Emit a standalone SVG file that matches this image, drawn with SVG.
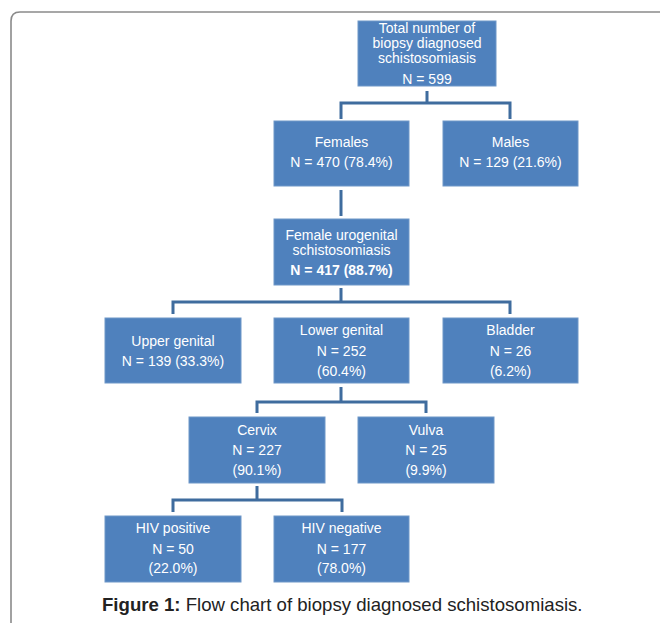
<svg xmlns="http://www.w3.org/2000/svg" width="660" height="623" viewBox="0 0 660 623">
<style>
.box{fill:#4F81BD;stroke:#6F97C8;stroke-width:1}
.t{font-family:"Liberation Sans",Arial,sans-serif;font-size:14px;fill:#FFFFFF;text-anchor:middle}
.b{font-weight:bold}
.c{fill:none;stroke:#3F6C9E;stroke-width:3;stroke-linejoin:miter}
.cap{font-family:"Liberation Sans",Arial,sans-serif;font-size:18.6px;fill:#222222}
</style>
<rect width="660" height="623" fill="#FFFFFF"/>
<path d="M11,630 L11,21 Q11,12 20,12 L670,12" fill="none" stroke="#8A8A8A" stroke-width="1.6"/>
<g id="connectors">
<path class="c" d="M427,91 V103 M341,119 V103 H510 V119"/>
<path class="c" d="M341,190 V216"/>
<path class="c" d="M341,288 V302 M173,314 V302 H510 V314"/>
<path class="c" d="M341,387 V402 M257,413 V402 H426 V413"/>
<path class="c" d="M257,486 V500 M173,512 V500 H342 V512"/>
</g>
<g id="total">
<rect class="box" x="358" y="21" width="138" height="65"/>
<text class="t" x="427" y="32.5">Total number of</text>
<text class="t" x="427" y="47.5">biopsy diagnosed</text>
<text class="t" x="427" y="62.5">schistosomiasis</text>
<text class="t" x="427" y="83.5">N = 599</text>
</g>
<g id="females">
<rect class="box" x="274" y="121" width="135" height="65"/>
<text class="t" x="341.5" y="147">Females</text>
<text class="t" x="341.5" y="167">N = 470 (78.4%)</text>
</g>
<g id="males">
<rect class="box" x="443" y="121" width="135" height="65"/>
<text class="t" x="510.5" y="147">Males</text>
<text class="t" x="510.5" y="167">N = 129 (21.6%)</text>
</g>
<g id="fus">
<rect class="box" x="274" y="219" width="135" height="66"/>
<text class="t" x="341.5" y="239.5">Female urogenital</text>
<text class="t" x="341.5" y="254.5">schistosomiasis</text>
<text class="t b" x="341.5" y="274.5">N = 417 (88.7%)</text>
</g>
<g id="upper">
<rect class="box" x="105" y="318" width="136" height="65"/>
<text class="t" x="173" y="345.5">Upper genital</text>
<text class="t" x="173" y="365.5">N = 139 (33.3%)</text>
</g>
<g id="lower">
<rect class="box" x="274" y="318" width="135" height="65"/>
<text class="t" x="341.5" y="335">Lower genital</text>
<text class="t" x="341.5" y="356">N = 252</text>
<text class="t" x="341.5" y="375.5">(60.4%)</text>
</g>
<g id="bladder">
<rect class="box" x="443" y="318" width="135" height="65"/>
<text class="t" x="510.5" y="335">Bladder</text>
<text class="t" x="510.5" y="356">N = 26</text>
<text class="t" x="510.5" y="375.5">(6.2%)</text>
</g>
<g id="cervix">
<rect class="box" x="189" y="417" width="136" height="66"/>
<text class="t" x="257" y="435">Cervix</text>
<text class="t" x="257" y="455">N = 227</text>
<text class="t" x="257" y="474.5">(90.1%)</text>
</g>
<g id="vulva">
<rect class="box" x="358" y="417" width="136" height="66"/>
<text class="t" x="426" y="435">Vulva</text>
<text class="t" x="426" y="455">N = 25</text>
<text class="t" x="426" y="474.5">(9.9%)</text>
</g>
<g id="hivpos">
<rect class="box" x="105" y="516" width="136" height="66"/>
<text class="t" x="173" y="533">HIV positive</text>
<text class="t" x="173" y="554">N = 50</text>
<text class="t" x="173" y="573">(22.0%)</text>
</g>
<g id="hivneg">
<rect class="box" x="274" y="516" width="135" height="66"/>
<text class="t" x="341.5" y="533">HIV negative</text>
<text class="t" x="341.5" y="554">N = 177</text>
<text class="t" x="341.5" y="573">(78.0%)</text>
</g>
<g id="caption">
<text class="cap" x="102" y="611"><tspan font-weight="bold">Figure 1:</tspan> Flow chart of biopsy diagnosed schistosomiasis.</text>
</g>
</svg>
